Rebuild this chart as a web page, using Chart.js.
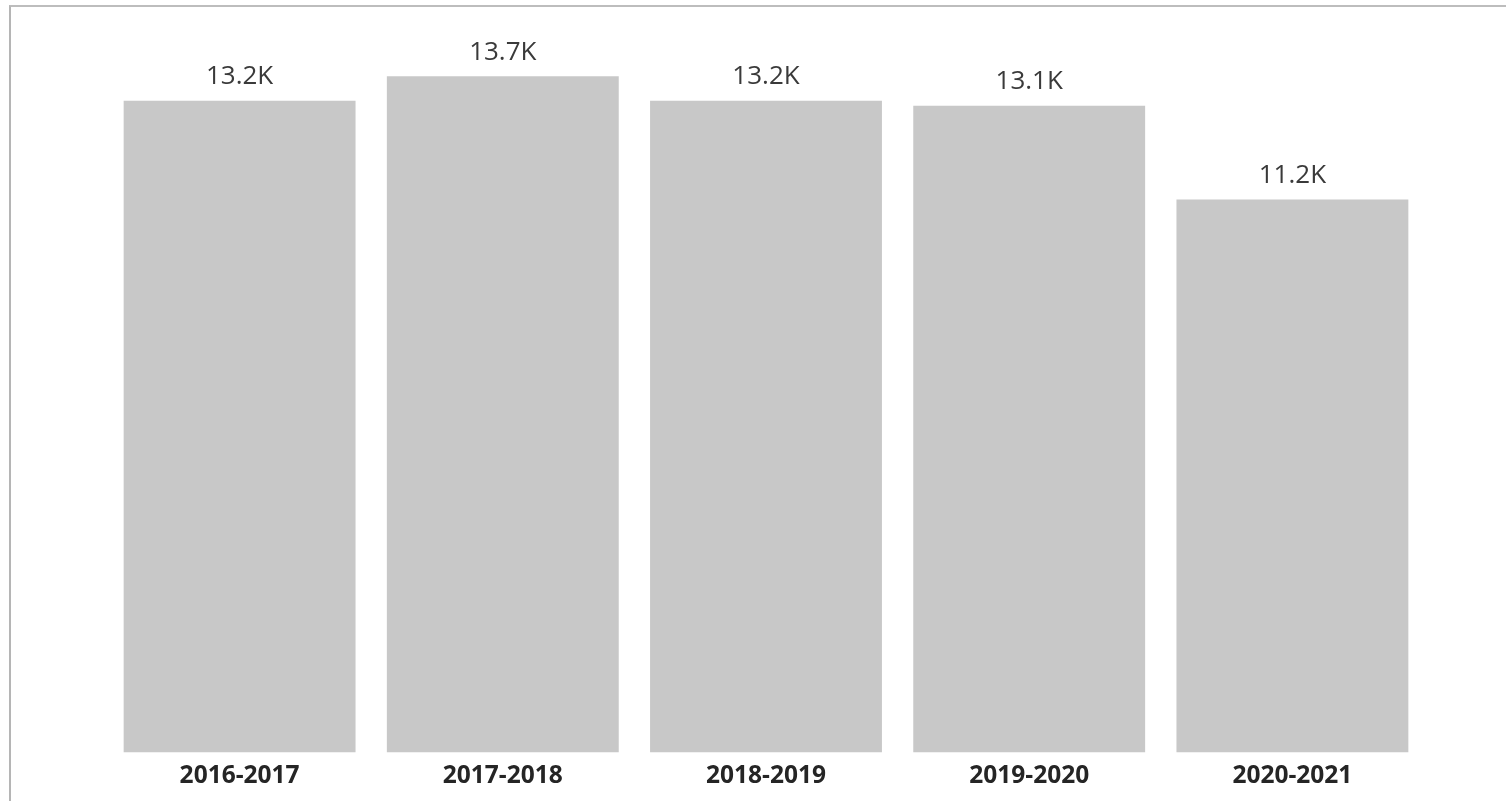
<!DOCTYPE html>
<html>
<head>
<meta charset="utf-8">
<script src="https://cdn.jsdelivr.net/npm/chart.js@4/dist/chart.umd.min.js"></script>
<style>
  html, body { margin: 0; padding: 0; background: #fff; }
  #wrap { position: relative; width: 1506px; height: 801px; overflow: hidden; }
  #frame { position: absolute; left: 9px; top: 5px; width: 1500px; height: 800px;
           border-top: 2px solid #bdbdbd; border-left: 2px solid #b5b5b5; box-sizing: border-box; }
  canvas { position: absolute; left: 0; top: 0; }
</style>
</head>
<body>
<div id="wrap">
  <div id="frame"></div>
  <canvas id="c" width="1506" height="801"></canvas>
</div>
<script>
const categories = ['2016-2017', '2017-2018', '2018-2019', '2019-2020', '2020-2021'];
const values = [13200, 13700, 13200, 13100, 11200];
const yMin = 0;
const yMax = 15000;

const valueLabels = {
  id: 'valueLabels',
  afterDatasetsDraw(chart) {
    const ctx = chart.ctx;
    const meta = chart.getDatasetMeta(0);
    ctx.save();
    ctx.font = '400 26px "Open Sans"';
    ctx.fillStyle = '#3a3a3a';
    ctx.textAlign = 'center';
    ctx.textBaseline = 'middle';
    meta.data.forEach((bar, i) => {
      const v = chart.data.datasets[0].data[i];
      ctx.fillText((v / 1000).toFixed(1) + 'K', bar.x, bar.y - 24);
    });
    ctx.restore();
  }
};

new Chart(document.getElementById('c'), {
  type: 'bar',
  data: {
    labels: categories,
    datasets: [{
      data: values,
      backgroundColor: '#c8c8c8',
      borderWidth: 0,
      categoryPercentage: 1.0,
      barPercentage: 0.881
    }]
  },
  options: {
    responsive: false,
    animation: false,
    devicePixelRatio: 1,
    layout: { padding: { left: 108, right: 82, top: 12, bottom: 1 } },
    plugins: { legend: { display: false }, tooltip: { enabled: false } },
    scales: {
      x: {
        grid: { display: false, drawTicks: false },
        border: { display: false },
        ticks: {
          padding: 9,
          color: '#252525',
          font: { family: 'Open Sans', size: 24.5, weight: 'bold' },
          maxRotation: 0
        }
      },
      y: {
        display: false,
        min: yMin,
        max: yMax
      }
    }
  },
  plugins: [valueLabels]
});
</script>
</body>
</html>
